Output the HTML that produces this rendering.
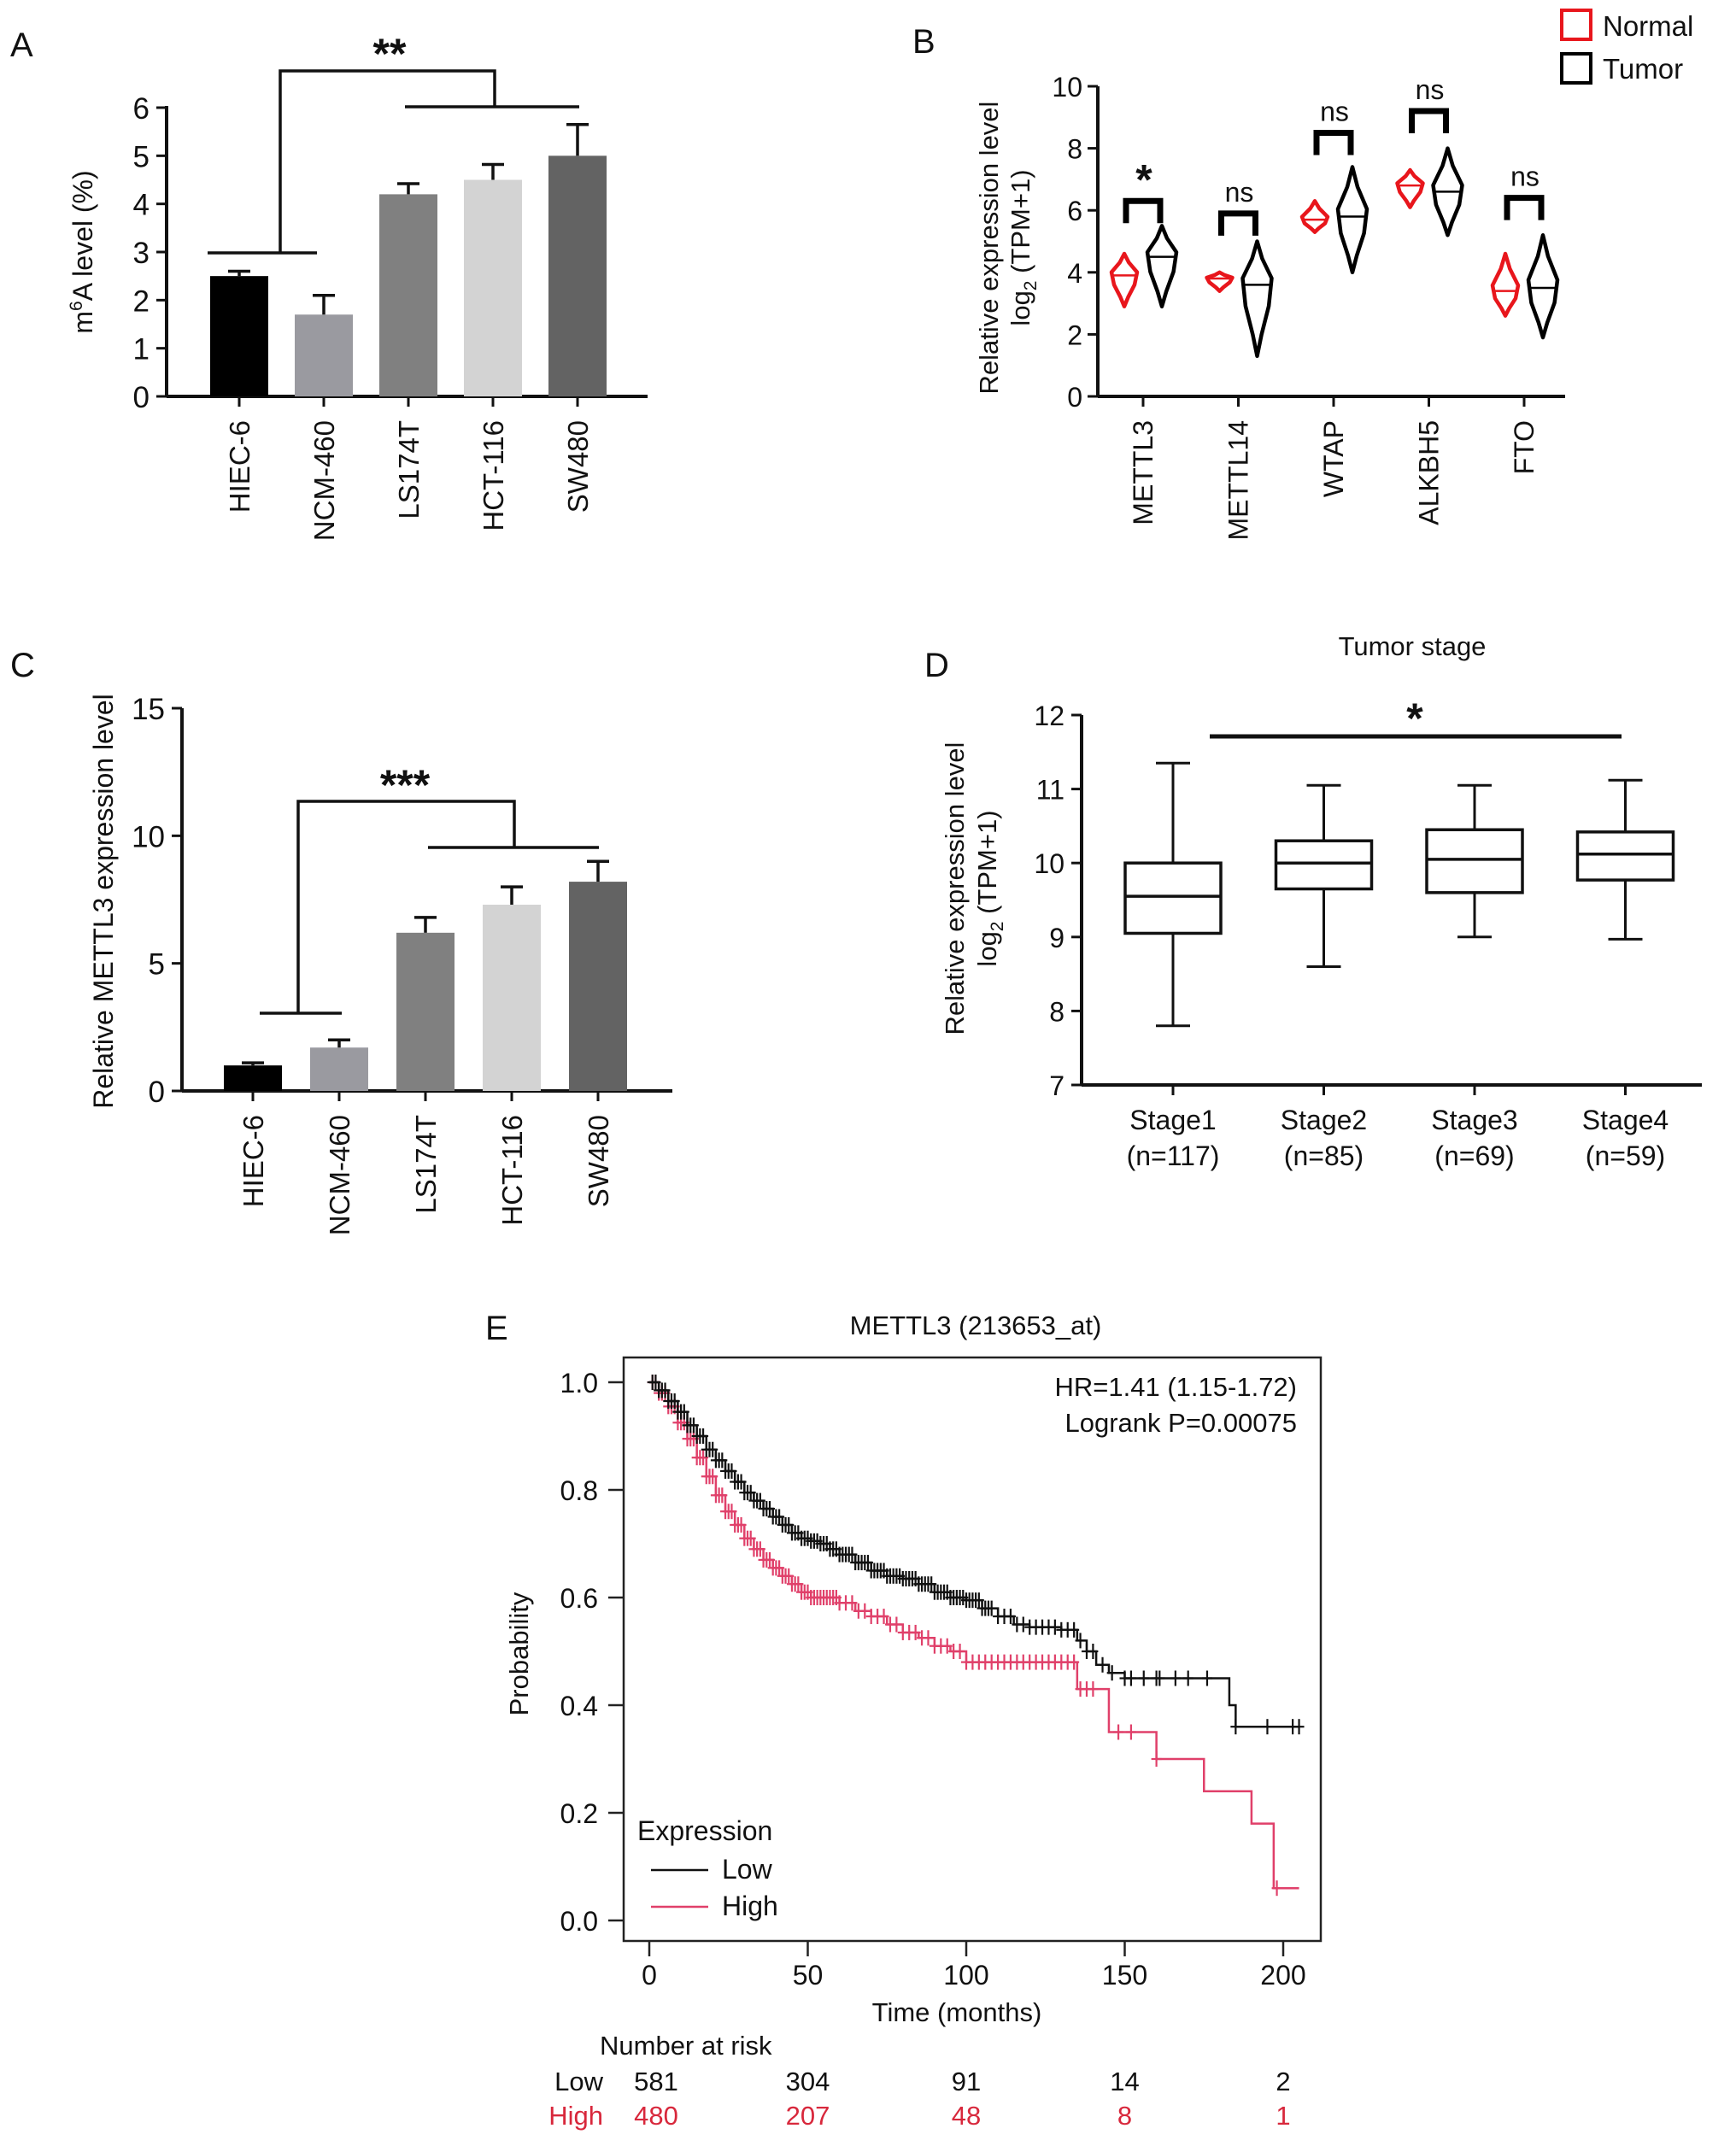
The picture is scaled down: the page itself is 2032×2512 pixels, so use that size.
<!DOCTYPE html>
<html><head><meta charset="utf-8"><style>
html,body{margin:0;padding:0;background:#fff;}
svg{display:block;font-family:"Liberation Sans",Arial,sans-serif;}
</style></head><body>
<svg id="fig" width="2032" height="2512" viewBox="0 0 2032 2512" xmlns="http://www.w3.org/2000/svg">
<g font-size="40" fill="#111">
<text x="12" y="66">A</text>
<text x="1068" y="62">B</text>
<text x="12" y="792">C</text>
<text x="1082" y="792">D</text>
<text x="568" y="1568">E</text>
</g>
<g id="layer"></g>
</svg>
<script>
// ---- Panel A data
const aCats=["HIEC-6","NCM-460","LS174T","HCT-116","SW480"];
const aVals=[2.5,1.7,4.2,4.5,5.0];
const aErr=[2.6,2.1,4.42,4.82,5.65];
const aColors=["#000","#9a9aa0","#808080","#d3d3d3","#636363"];
const aTicks=[0,1,2,3,4,5,6];
// ---- Panel B data
const bCats=["METTL3","METTL14","WTAP","ALKBH5","FTO"];
const bNormMin=[2.9,3.4,5.3,6.1,2.6],bNormMed=[3.9,3.8,5.7,6.8,3.4],bNormMax=[4.6,4.0,6.3,7.3,4.6];
const bTumMin=[2.9,1.3,4.0,5.2,1.9],bTumMed=[4.5,3.6,5.8,6.6,3.5],bTumMax=[5.5,5.0,7.4,8.0,5.2];
const bBracket=[6.3,5.9,8.5,9.2,6.4];
const bSig=["*","ns","ns","ns","ns"];
const bTicks=[0,2,4,6,8,10];
// ---- Panel C data
const cCats=["HIEC-6","NCM-460","LS174T","HCT-116","SW480"];
const cVals=[1.0,1.7,6.2,7.3,8.2];
const cErr=[1.1,2.0,6.8,8.0,9.0];
const cTicks=[0,5,10,15];
// ---- Panel D data
const dCats=["Stage1","Stage2","Stage3","Stage4"];
const dN=["(n=117)","(n=85)","(n=69)","(n=59)"];
const dMin=[7.8,8.6,9.0,8.97],dQ1=[9.05,9.65,9.6,9.77],dMed=[9.55,10.0,10.05,10.12],dQ3=[10.0,10.3,10.45,10.42],dMax=[11.35,11.05,11.05,11.12];
const dTicks=[7,8,9,10,11,12];
// ---- Panel E data
const lowT=[0,3,6,9,12,15,18,21,24,27,30,33,36,39,42,45,48,51,54,57,60,65,70,75,80,85,90,95,100,105,110,115,120,125,130,135,138,141,145,150,183,185,205];
const lowS=[1,0.985,0.965,0.945,0.92,0.9,0.875,0.855,0.835,0.815,0.795,0.78,0.765,0.75,0.735,0.72,0.71,0.705,0.70,0.69,0.68,0.665,0.65,0.64,0.635,0.625,0.61,0.60,0.595,0.58,0.565,0.55,0.545,0.545,0.54,0.52,0.50,0.475,0.46,0.45,0.40,0.36,0.36];
const highT=[0,3,6,9,12,15,18,21,24,27,30,33,36,39,42,45,48,51,55,60,65,70,75,80,85,90,95,100,133,135,145,160,175,190,197,205];
const highS=[1,0.98,0.955,0.925,0.895,0.86,0.825,0.79,0.76,0.735,0.71,0.69,0.67,0.655,0.64,0.625,0.61,0.60,0.60,0.59,0.575,0.565,0.55,0.535,0.525,0.51,0.50,0.48,0.48,0.43,0.35,0.30,0.24,0.18,0.06,0.06];
const lowCens=[1,2,3,4,5,6,7,8,9,10,11,12,13,14,15,16,17,18,19,20,21,22,23,24,25,26,27,28,29,30,31,32,33,34,35,36,37,38,39,40,41,42,43,44,45,46,47,48,49,50,51,52,53,54,55,56,57,58,59,60,61,62,63,64,65,66,67,68,69,70,71,72,73,74,75,76,77,78,79,80,81,82,83,84,85,86,87,88,89,90,91,92,93,94,95,96,97,98,99,100,101,102,103,104,105,106,107,108,110,112,114,116,118,120,122,124,126,128,130,132,134,136,138,140,143,146,150,152,156,160,161,166,170,176,185,195,203,205];
const highCens=[1,2,3,4,5,6,7,8,9,10,11,12,13,14,15,16,17,18,19,20,21,22,23,24,25,26,27,28,29,30,31,32,33,34,35,36,37,38,39,40,41,42,43,44,45,46,47,48,49,50,51,52,53,54,55,56,57,58,59,60,62,64,66,68,70,72,74,76,78,80,82,84,86,88,90,92,94,96,98,100,102,104,106,108,110,112,114,116,118,120,122,124,126,128,130,132,134,136,138,140,148,152,160,198];
const eXTicks=[0,50,100,150,200];
const eYTicks=[0,0.2,0.4,0.6,0.8,1.0];
const riskLow=[581,304,91,14,2];
const riskHigh=[480,207,48,8,1];

const NS="http://www.w3.org/2000/svg";
const L=document.getElementById('layer');
function mk(tag,at,parent){const e=document.createElementNS(NS,tag);for(const k in at)e.setAttribute(k,at[k]);(parent||L).appendChild(e);return e;}
function ln(x1,y1,x2,y2,sw,col){return mk('line',{x1,y1,x2,y2,stroke:col||'#111','stroke-width':sw||3});}
function tx(s,x,y,fs,anchor,extra){const e=mk('text',Object.assign({x,y,'font-size':fs,'text-anchor':anchor||'middle',fill:'#111'},extra||{}));e.textContent=s;return e;}
function poly(pts,col,sw){return mk('polyline',{points:pts.map(p=>p.join(',')).join(' '),fill:'none',stroke:col||'#111','stroke-width':sw||3});}

// ===== Panel A
(function(){
 const x0=195,x1=758,yb=464,yt=126,vmax=6;
 const y=v=>yb-(yb-yt)*v/vmax; const xc=i=>280+i*99;
 let e=ln(x0,yb,x1,yb,4);
 e=ln(x0,yt-2,x0,yb,4);
 aTicks.forEach(t=>{ln(x0-12,y(t),x0,y(t),3);const k=tx(String(t),x0-20,y(t)+13,35,'end');});
 const yl=tx('',108,295,32,'middle',{transform:'rotate(-90 108 295)'});yl.innerHTML='m<tspan dy="-12" font-size="21">6</tspan><tspan dy="12">A level (%)</tspan>';
 
 aCats.forEach((c,i)=>{
  const b=mk('rect',{x:xc(i)-34,y:y(aVals[i]),width:68,height:yb-y(aVals[i]),fill:aColors[i]});
  
  ln(xc(i),y(aVals[i]),xc(i),y(aErr[i]),3.5);ln(xc(i)-13,y(aErr[i]),xc(i)+13,y(aErr[i]),3.5);
  ln(xc(i),yb,xc(i),yb+12,3);
  const t=tx(c,0,0,33,'end',{transform:`translate(${xc(i)+12},${yb+28}) rotate(-90)`});
  
 });
 const g=poly([[243,296],[371,296]],'#111',3.5);poly([[328,296],[328,83],[579,83],[579,125]],'#111',3.5);poly([[474,125],[678,125]],'#111',3.5);
 
 const s=tx('**',456,80,50,'middle',{'font-weight':'bold'});
})();

// ===== Panel B
(function(){
 const x0=1285,x1=1832,yb=464,yt=101,vmax=10;
 const y=v=>yb-(yb-yt)*v/vmax; const xc=i=>1338+i*111.5;
 let e=ln(x0,yb,x1,yb,4);
 e=ln(x0,yt,x0,yb,4);
 bTicks.forEach(t=>{ln(x0-12,y(t),x0,y(t),3);const k=tx(String(t),x0-18,y(t)+12,32,'end');});
 const yt1=tx('Relative expression level',1168,290,31,'middle',{transform:'rotate(-90 1168 290)'});
 
 const yt2=tx('',1205,290,31,'middle',{transform:'rotate(-90 1205 290)'});yt2.innerHTML='log<tspan dy="8" font-size="21">2</tspan><tspan dy="-8"> (TPM+1)</tspan>';
 function violin(cx,mn,md,mx,col,hw){
  const p=[[cx,y(mx)],[cx+hw*0.35,y(md+(mx-md)*0.6)],[cx+hw,y(md+(mx-md)*0.15)],[cx+hw*0.8,y(md-(md-mn)*0.3)],[cx+hw*0.3,y(md-(md-mn)*0.7)],[cx,y(mn)],
   [cx-hw*0.3,y(md-(md-mn)*0.7)],[cx-hw*0.8,y(md-(md-mn)*0.3)],[cx-hw,y(md+(mx-md)*0.15)],[cx-hw*0.35,y(md+(mx-md)*0.6)],[cx,y(mx)]];
  const v=mk('polygon',{points:p.map(q=>q.join(',')).join(' '),fill:'#fff',stroke:col,'stroke-width':4.5,'stroke-linejoin':'round'});
  ln(cx-hw*0.9,y(md),cx+hw*0.9,y(md),2.5,col);
  return v;
 }
 bCats.forEach((c,i)=>{
  const n=violin(xc(i)-22,bNormMin[i],bNormMed[i],bNormMax[i],'#e8161c',15);
  
  const t=violin(xc(i)+22,bTumMin[i],bTumMed[i],bTumMax[i],'#000',17);
  
  ln(xc(i),yb,xc(i),yb+12,3);
  const br=poly([[xc(i)-20,y(bBracket[i])+26],[xc(i)-20,y(bBracket[i])],[xc(i)+20,y(bBracket[i])],[xc(i)+20,y(bBracket[i])+26]],'#000',7);
  
  const sg=tx(bSig[i],xc(i)+1,y(bBracket[i])-(bSig[i]==='*'?8:14),bSig[i]==='*'?50:32,'middle',bSig[i]==='*'?{'font-weight':'bold'}:{});
  
  const lb=tx(c,0,0,32,'end',{transform:`translate(${xc(i)+11},${yb+28}) rotate(-90)`});
  
 });
 let r=mk('rect',{x:1828,y:12,width:34,height:34,fill:'none',stroke:'#e8161c','stroke-width':4});
 
 r=mk('rect',{x:1828,y:63,width:34,height:34,fill:'none',stroke:'#000','stroke-width':4});
 
 let lt=tx('Normal',1876,42,33,'start');
 lt=tx('Tumor',1876,92,33,'start');
})();

// ===== Panel C
(function(){
 const x0=213,x1=787,yb=1277,yt=829,vmax=15;
 const y=v=>yb-(yb-yt)*v/vmax; const xc=i=>296+i*101;
 let e=ln(x0,yb,x1,yb,4);
 e=ln(x0,yt,x0,yb,4);
 cTicks.forEach(t=>{ln(x0-12,y(t),x0,y(t),3);const k=tx(String(t),x0-20,y(t)+13,35,'end');});
 const yl=tx('Relative METTL3 expression level',132,1055,32,'middle',{transform:'rotate(-90 132 1055)'});
 
 cCats.forEach((c,i)=>{
  const b=mk('rect',{x:xc(i)-34,y:y(cVals[i]),width:68,height:yb-y(cVals[i]),fill:aColors[i]});
  
  ln(xc(i),y(cVals[i]),xc(i),y(cErr[i]),3.5);ln(xc(i)-13,y(cErr[i]),xc(i)+13,y(cErr[i]),3.5);
  ln(xc(i),yb,xc(i),yb+12,3);
  const t=tx(c,0,0,33,'end',{transform:`translate(${xc(i)+12},${yb+28}) rotate(-90)`});
  
 });
 const g=poly([[304,1186],[400,1186]],'#111',3.5);poly([[349,1186],[349,938],[602,938],[602,992]],'#111',3.5);poly([[501,992],[701,992]],'#111',3.5);
 
 const s=tx('***',474,936,50,'middle',{'font-weight':'bold'});
})();

// ===== Panel D
(function(){
 const x0=1266,x1=1992,yb=1270,yt=837,vmin=7,vmax=12;
 const y=v=>yb-(yb-yt)*(v-vmin)/(vmax-vmin); const xc=i=>1373+i*176.5;
 let e=ln(x0,yb,x1,yb,4);
 e=ln(x0,yt,x0,yb,4);
 dTicks.forEach(t=>{ln(x0-12,y(t),x0,y(t),3);const k=tx(String(t),x0-20,y(t)+12,32,'end');});
 let yt1=tx('Relative expression level',1128,1040,31,'middle',{transform:'rotate(-90 1128 1040)'});
 
 const yt2=tx('',1166,1040,31,'middle',{transform:'rotate(-90 1166 1040)'});yt2.innerHTML='log<tspan dy="8" font-size="21">2</tspan><tspan dy="-8"> (TPM+1)</tspan>';
 const tt=tx('Tumor stage',1653,767,31);
 dCats.forEach((c,i)=>{
  const cx=xc(i),hw=56;
  ln(cx,y(dMax[i]),cx,y(dQ3[i]),3);ln(cx,y(dQ1[i]),cx,y(dMin[i]),3);
  ln(cx-20,y(dMax[i]),cx+20,y(dMax[i]),3);ln(cx-20,y(dMin[i]),cx+20,y(dMin[i]),3);
  const b=mk('rect',{x:cx-hw,y:y(dQ3[i]),width:2*hw,height:y(dQ1[i])-y(dQ3[i]),fill:'#fff',stroke:'#111','stroke-width':3.5});
  
  ln(cx-hw,y(dMed[i]),cx+hw,y(dMed[i]),3.5);
  ln(cx,yb,cx,yb+12,3);
  let l=tx(c,cx,1322,32);
  l=tx(dN[i],cx,1364,32);
 });
 const sl=ln(1416,862,1898,862,5);
 const s=tx('*',1656,858,50,'middle',{'font-weight':'bold'});
})();

// ===== Panel E
(function(){
 const bx=730,by=1589,bw=816,bh=683;
 const xs=t=>760+(1502-760)*t/200; const ys=p=>2248-(2248-1618)*p;
 const fr=mk('rect',{x:bx,y:by,width:bw,height:bh,fill:'none',stroke:'#222','stroke-width':2.5});
 
 const ti=tx('METTL3 (213653_at)',1142,1562,31);
 eYTicks.forEach(t=>{ln(712,ys(t),bx,ys(t),2.5,'#222');const k=tx(t.toFixed(1),700,ys(t)+12,32,'end');});
 eXTicks.forEach(t=>{ln(xs(t),by+bh,xs(t),by+bh+18,2.5,'#222');const k=tx(String(t),xs(t),2323,32);});
 const yl=tx('Probability',618,1936,31,'middle',{transform:'rotate(-90 618 1936)'});
 const xl=tx('Time (months)',1120,2366,31);
 function stepAt(T,S,t){let s=S[0];for(let i=0;i<T.length;i++){if(T[i]<=t)s=S[i];}return s;}
 function curve(T,S,C,col,name){
  const pts=[[xs(T[0]),ys(S[0])]];
  for(let i=1;i<T.length;i++){pts.push([xs(T[i]),ys(S[i-1])]);pts.push([xs(T[i]),ys(S[i])]);}
  const p=poly(pts,col,2.5);
  
  C.forEach(t=>{const cx=xs(t),cy=ys(stepAt(T,S,t));ln(cx,cy-9,cx,cy+9,2.2,col);ln(cx-6,cy,cx+6,cy,2.2,col);});
 }
 curve(highT,highS,highCens,'#e0406a','e-curve-high');
 curve(lowT,lowS,lowCens,'#111','e-curve-low');
 let h=tx('HR=1.41 (1.15-1.72)',1518,1634,31,'end');
 h=tx('Logrank P=0.00075',1518,1676,31,'end');
 let lg=tx('Expression',746,2154,32,'start');
 ln(762,2189,829,2189,2.5,'#111');ln(762,2232,829,2232,2.5,'#e0406a');
 lg=tx('Low',845,2199,32,'start');
 lg=tx('High',845,2242,32,'start');
 const nr=tx('Number at risk',702,2405,31,'start');
 let rl=tx('Low',706,2447,31,'end');
 rl=tx('High',706,2487,31,'end',{fill:'#d8283c'});
 eXTicks.forEach((t,i)=>{
  let a=tx(String(riskLow[i]),xs(t)+(i===0?8:0),2447,31);
  a=tx(String(riskHigh[i]),xs(t)+(i===0?8:0),2487,31,'middle',{fill:'#d8283c'});
 });
})();
</script>
</body></html>
